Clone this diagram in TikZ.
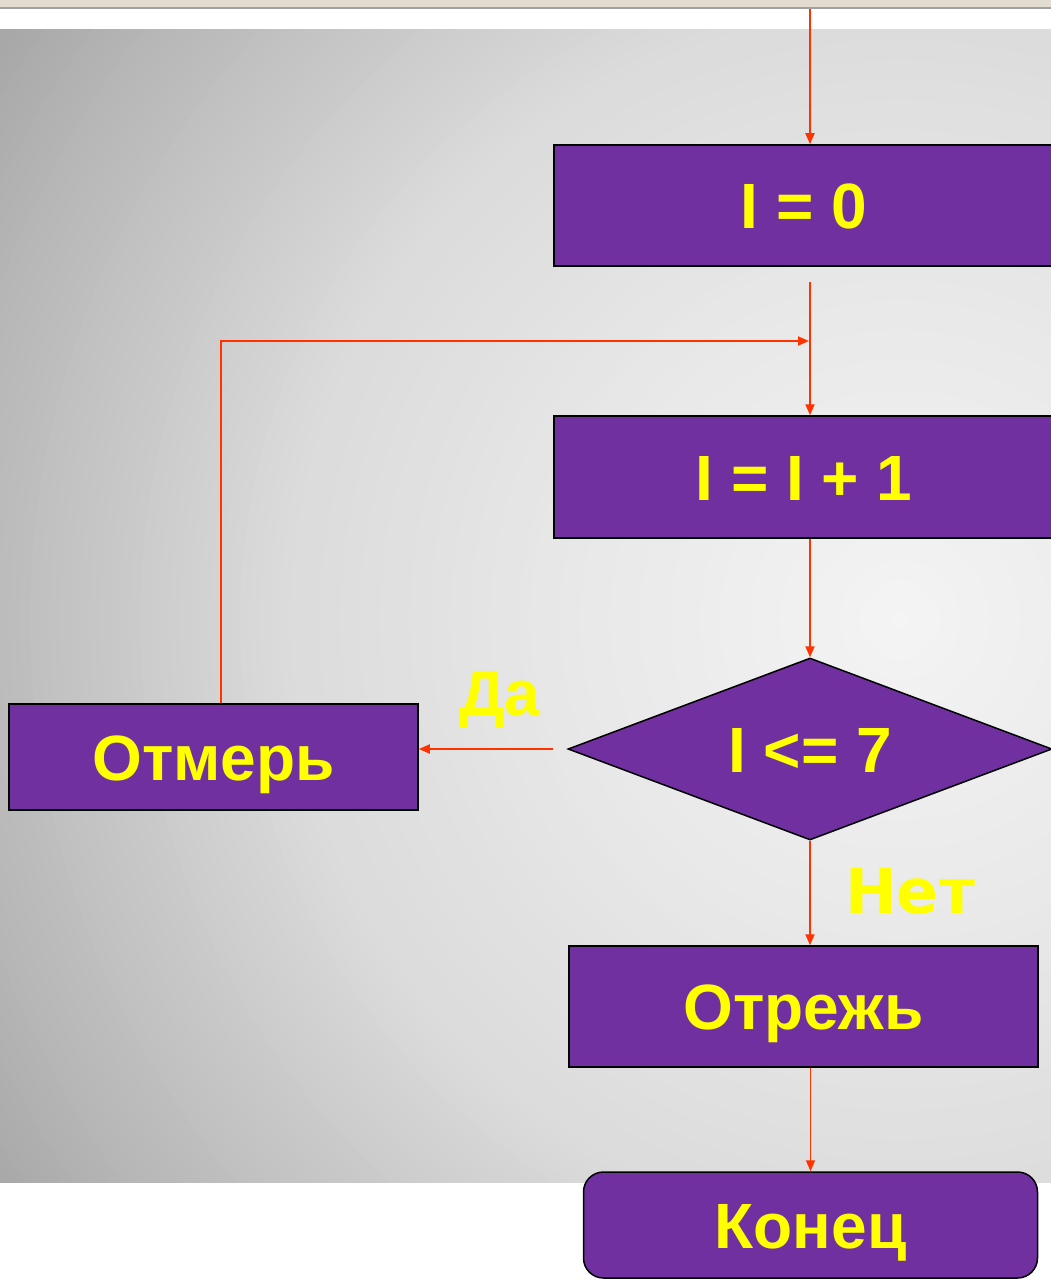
\documentclass[tikz,border=0pt]{standalone}
\usepackage{fontspec}
\setmainfont{Liberation Sans}
\newfontfamily\dejavu{DejaVu Sans}
\usetikzlibrary{shapes.geometric,arrows.meta}
\definecolor{purp}{HTML}{7030A0}
\definecolor{yel}{HTML}{FFFF00}
\definecolor{redl}{HTML}{FF3300}
\definecolor{topbeige}{HTML}{E3DCD0}
\definecolor{topgrey}{HTML}{A0A0A0}
\tikzset{
  box/.style={draw=black, line width=1.5pt, fill=purp, text=yel,
    font=\bfseries\fontsize{64}{70}\selectfont, inner sep=0pt,
    text height=46pt, text depth=0pt},
  lab/.style={text=yel, font=\bfseries\fontsize{64}{70}\selectfont, inner sep=0pt,
    text height=46pt, text depth=0pt},
  arr/.style={draw=redl, line width=1.8pt, -{Triangle[length=11pt,width=9pt]}}
}
\begin{document}
\begin{tikzpicture}[x=1pt,y=-1pt]
\useasboundingbox (0,0) rectangle (1051,1279);
\clip (0,0) rectangle (1051,1279);
\fill[white] (0,0) rectangle (1051,1279);
\fill[topbeige] (0,0) rectangle (1051,7);
\fill[topgrey] (0,7) rectangle (1051,9);
\begin{scope}
  \clip (0,30) rectangle (1051,1182);
  \foreach \r in {1100,1090,...,10}{
    \pgfmathsetmacro\g{\r<336 ? 244-(\r/336)*12 : (\r<620 ? 232-((\r-336)/284)*13 : (\r<940 ? 219-((\r-620)/320)*35 : 184-((\r-940)/130)*16))}
    \pgfmathsetmacro\gg{\g/255}
    \definecolor{tmpc}{gray}{\gg}
    \fill[tmpc] (900,620) circle[radius=\r pt];
  }
\end{scope}

\node[box, minimum width=500pt, minimum height=121pt] (b1) at (804,205.5) {I = 0};
\node[box, minimum width=500pt, minimum height=122pt] (b2) at (804,477) {I = I + 1};
\node[box, shape=diamond, aspect=2.66, minimum width=484pt, minimum height=182pt] (d) at (810,749) {I <= 7};
\node[box, minimum width=409pt, minimum height=106pt] (b5) at (213.5,757) {Отмерь};
\node[box, minimum width=469pt, minimum height=121pt] (b3) at (803.5,1006.5) {Отрежь};
\node[box, rounded corners=20pt, minimum width=454pt, minimum height=106pt] (b4) at (810.5,1225) {Конец};
\node[lab] (da) at (500,692) {Да};
\node[lab, font=\dejavu\bfseries\fontsize{62}{70}\selectfont] (net) at (910,890) {Нет};

\coordinate (top) at (810,9);
\coordinate (j0) at (810,282);
\coordinate (j1) at (810,341);
\draw[arr] (top) -- (top |- b1.north);
\draw[arr] (j0) -- (j0 |- b2.north);
\draw[arr, shorten >=1pt] ([xshift=7.5pt]b5.north) |- (j1);
\draw[arr] (d.north |- b2.south) -- (d.north);
\draw[arr, shorten <=14pt] (d.west) -- (d.west -| b5.east);
\draw[arr] (d.south) -- (d.south |- b3.north);
\draw[arr] (b4.north |- b3.south) -- (b4.north);
\end{tikzpicture}
\end{document}
